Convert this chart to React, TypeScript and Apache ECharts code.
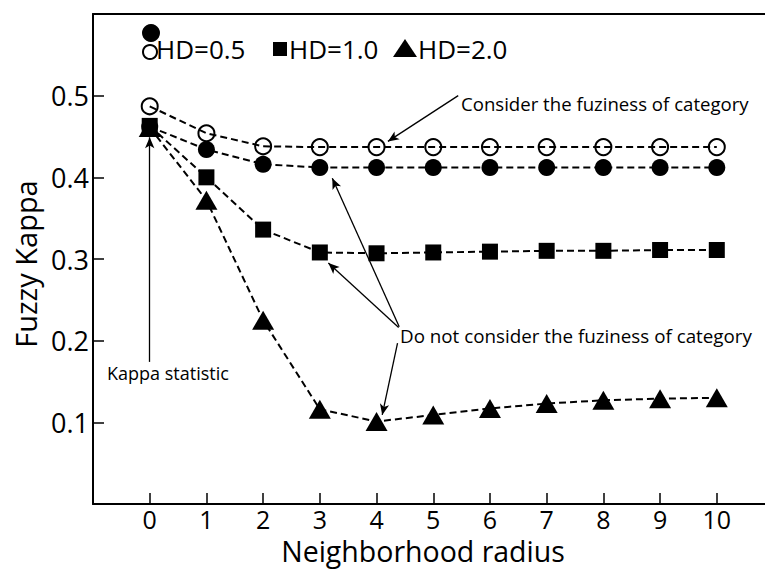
import React, { useEffect, useRef } from "react";
import * as echarts from "echarts";

const radius = [0, 1, 2, 3, 4, 5, 6, 7, 8, 9, 10];
const hd05Fuzzy = [0.487, 0.454, 0.438, 0.437, 0.437, 0.437, 0.437, 0.437, 0.437, 0.437, 0.437];
const hd05 = [0.462, 0.434, 0.416, 0.412, 0.412, 0.412, 0.412, 0.412, 0.412, 0.412, 0.412];
const hd10 = [0.463, 0.4, 0.336, 0.308, 0.307, 0.308, 0.309, 0.31, 0.31, 0.311, 0.311];
const hd20 = [0.461, 0.372, 0.225, 0.116, 0.101, 0.109, 0.117, 0.123, 0.127, 0.129, 0.13];
const xTickValues = [0, 1, 2, 3, 4, 5, 6, 7, 8, 9, 10];
const yTickValues = [0.1, 0.2, 0.3, 0.4, 0.5];

// annotation arrows: [tail, tip] in data coordinates
const arrows = [
  [[0, 0.174], [0, 0.449]],
  [[5.44, 0.5], [4.2, 0.444]],
  [[4.4, 0.217], [3.22, 0.399]],
  [[4.39, 0.216], [3.15, 0.295]],
  [[4.37, 0.197], [4.1, 0.109]],
];

const FONT = "'Open Sans', sans-serif";

export default function App() {
  const ref = useRef<HTMLDivElement>(null);
  useEffect(() => {
    if (!ref.current) return;
    const chart = echarts.init(ref.current, null, { renderer: "svg" });
    const dash = [7, 4];
    const axisCommon = {
      type: "value" as const,
      splitLine: { show: false },
    };
    const option: any = {
      animation: false,
      backgroundColor: "#fff",
      grid: { left: 93, right: 0, top: 14, bottom: 66, containLabel: false, outerBoundsMode: "none" },
      xAxis: [
        {
          ...axisCommon,
          min: -1,
          max: 10.85,
          position: "bottom",
          axisLine: { show: true, onZero: false, lineStyle: { color: "#000", width: 2 } },
          axisTick: { show: true, inside: true, length: 11, customValues: xTickValues, lineStyle: { color: "#000", width: 1.5 } },
          axisLabel: { show: true, customValues: xTickValues, color: "#000", fontSize: 25, lineHeight: 24, fontFamily: FONT, margin: 3 },
          name: "Neighborhood radius",
          nameLocation: "middle",
          nameGap: 33,
          nameTextStyle: { color: "#000", fontSize: 28.5, lineHeight: 28, fontFamily: FONT, padding: [0, 12, 0, 0] },
        },
        {
          ...axisCommon,
          min: -1,
          max: 10.85,
          position: "top",
          axisLine: { show: true, onZero: false, lineStyle: { color: "#000", width: 2 } },
          axisTick: { show: false },
          axisLabel: { show: false },
        },
      ],
      yAxis: {
        ...axisCommon,
        min: 0,
        max: 0.6,
        axisLine: { show: true, onZero: false, lineStyle: { color: "#000", width: 2 } },
        axisTick: { show: true, inside: true, length: 11, customValues: yTickValues, lineStyle: { color: "#000", width: 1.5 } },
        axisLabel: {
          show: true,
          customValues: yTickValues,
          color: "#000",
          fontSize: 27,
          fontFamily: FONT,
          margin: 4,
          formatter: (v: number) => v.toFixed(1),
        },
        name: "Fuzzy Kappa",
        nameLocation: "middle",
        nameGap: 52,
        nameTextStyle: { color: "#000", fontSize: 29, fontFamily: FONT, padding: [0, 10, 0, 0] },
      },
      series: [
        {
          name: "HD=2.0",
          type: "line",
          data: radius.map((x, i) => [x, hd20[i]]),
          symbol: "triangle",
          symbolSize: [22, 19],
          lineStyle: { color: "#000", width: 2, type: dash },
          itemStyle: { color: "#000" },
          z: 2,
        },
        {
          name: "HD=0.5",
          type: "line",
          data: radius.map((x, i) => [x, hd05[i]]),
          symbol: "circle",
          symbolSize: 17,
          lineStyle: { color: "#000", width: 2, type: dash },
          itemStyle: { color: "#000" },
          z: 3,
        },
        {
          name: "HD=1.0",
          type: "line",
          data: radius.map((x, i) => [x, hd10[i]]),
          symbol: "rect",
          symbolSize: 16,
          lineStyle: { color: "#000", width: 2, type: dash },
          itemStyle: { color: "#000" },
          z: 4,
        },
        {
          name: "HD=0.5 fuzzy",
          type: "line",
          data: radius.map((x, i) => [x, hd05Fuzzy[i]]),
          symbol: "circle",
          symbolSize: 16,
          lineStyle: { color: "#000", width: 2, type: dash },
          itemStyle: { color: "rgba(255,255,255,0)", borderColor: "#000", borderWidth: 2 },
          z: 5,
        },
        {
          name: "arrows",
          type: "line",
          data: [],
          markLine: {
            silent: true,
            symbol: ["none", "arrow"],
            symbolSize: [7, 11],
            label: { show: false },
            lineStyle: { color: "#000", width: 1.3, type: "solid" },
            data: arrows.map(([a, b]) => [{ coord: a }, { coord: b }]),
          },
          z: 6,
        },
      ],
      graphic: [
        { type: "circle", shape: { cx: 151, cy: 33, r: 9 }, style: { fill: "#000" } },
        { type: "circle", shape: { cx: 150, cy: 52, r: 7 }, style: { fill: "#fff", stroke: "#000", lineWidth: 2 } },
        { type: "text", x: 156, y: 49, style: { text: "HD=0.5", font: `26px ${FONT}`, fill: "#000", verticalAlign: "middle" } },
        { type: "rect", shape: { x: 273, y: 42, width: 14, height: 14 }, style: { fill: "#000" } },
        { type: "text", x: 289, y: 49, style: { text: "HD=1.0", font: `26px ${FONT}`, fill: "#000", verticalAlign: "middle" } },
        { type: "polygon", shape: { points: [[405, 39], [393, 57], [417, 57]] }, style: { fill: "#000" } },
        { type: "text", x: 418, y: 49, style: { text: "HD=2.0", font: `26px ${FONT}`, fill: "#000", verticalAlign: "middle" } },
        { type: "text", x: 461, y: 103, style: { text: "Consider the fuziness of category", font: `18.6px ${FONT}`, fill: "#000", verticalAlign: "middle" } },
        { type: "text", x: 400, y: 336, style: { text: "Do not consider the fuziness of category", font: `18.8px ${FONT}`, fill: "#000", verticalAlign: "middle" } },
        { type: "text", x: 107, y: 373, style: { text: "Kappa statistic", font: `18px ${FONT}`, fill: "#000", verticalAlign: "middle" } },
      ],
    };
    chart.setOption(option);
    return () => chart.dispose();
  }, []);
  return <div ref={ref} style={{ position: "absolute", left: 0, top: 0, width: 765, height: 570 }} />;
}
